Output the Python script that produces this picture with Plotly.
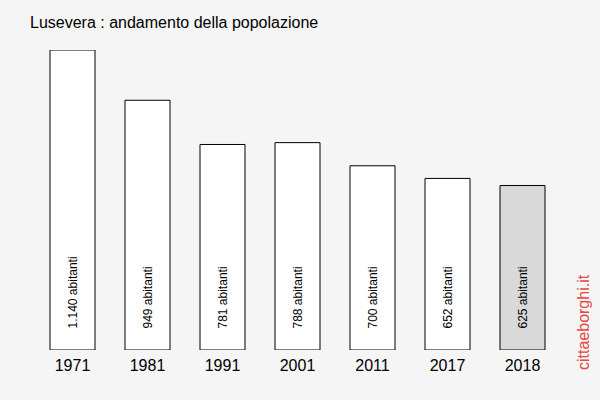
import plotly.graph_objects as go

years = ["1971", "1981", "1991", "2001", "2011", "2017", "2018"]
population = [1140, 949, 781, 788, 700, 652, 625]
labels = ["1.140 abitanti", "949 abitanti", "781 abitanti", "788 abitanti",
          "700 abitanti", "652 abitanti", "625 abitanti"]
fills = ["#ffffff"] * 6 + ["#d9d9d9"]

bg = "#f5f5f5"
FONT = "Liberation Sans, Arial"
fig = go.Figure()
fig.add_trace(go.Bar(
    x=years, y=population, width=0.6,
    marker=dict(color=fills, line=dict(color="#000000", width=1)),
    hoverinfo="skip",
))
for i, lab in enumerate(labels):
    fig.add_annotation(x=i, y=0, xref="x", yref="y", text=lab, textangle=-90, showarrow=False,
                       xanchor="center", yanchor="bottom", yshift=19,
                       font=dict(family=FONT, size=12, color="#000000"))
fig.add_annotation(x=(583 - 35) / 525, y=(400 - 50 - 322) / 300, xref="paper", yref="paper",
                   text="cittaeborghi.it", showarrow=False, textangle=-90,
                   xanchor="center", yanchor="middle",
                   font=dict(family=FONT, size=16, color="#e8463f"))
fig.update_layout(
    width=600, height=400,
    margin=dict(l=35, r=40, t=50, b=50),
    paper_bgcolor=bg, plot_bgcolor=bg,
    showlegend=False,
    title=dict(text="Lusevera : andamento della popolazione", x=30 / 600, xanchor="left",
               y=1 - 22 / 400, yanchor="middle",
               font=dict(family=FONT, size=16, color="#000000")),
    xaxis=dict(type="category", range=[-0.5, 6.5], showgrid=False, zeroline=False, showline=False,
               ticks="", ticklabelstandoff=4,
               tickfont=dict(family=FONT, size=16, color="#000000")),
    yaxis=dict(range=[0, 1140], visible=False, showgrid=False, zeroline=False),
)
fig.write_html("out.html")
